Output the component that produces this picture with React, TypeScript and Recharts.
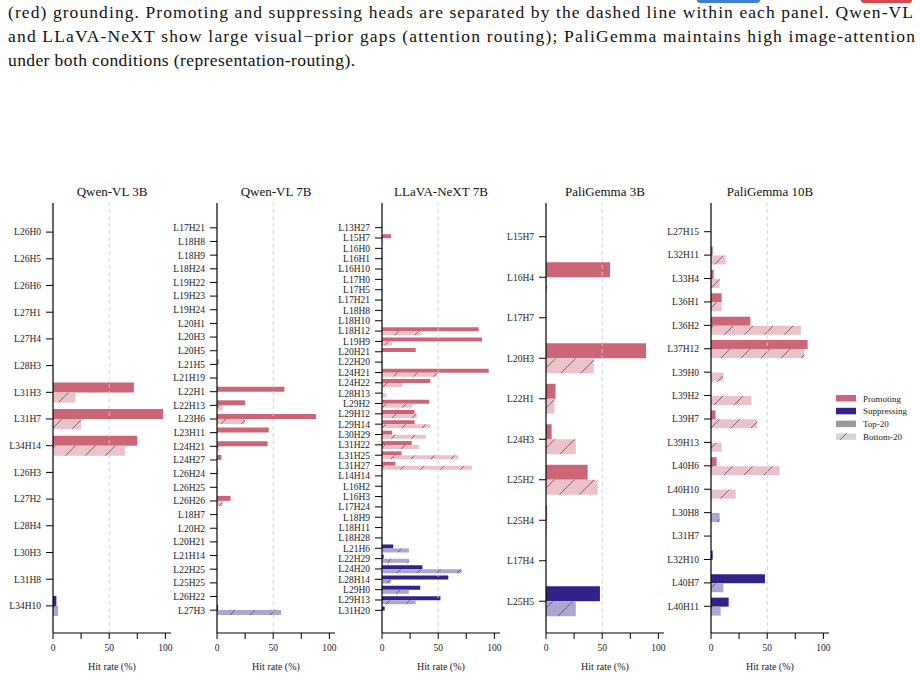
import React from "react";
import { BarChart, Bar, XAxis, YAxis, ReferenceLine, Cell } from "recharts";

const RED = "#cc6677";
const PURPLE = "#332288";
const RED_LIGHT = "#ebc2c9";
const PURPLE_LIGHT = "#ada7cf";
const SERIF = "'Liberation Serif', 'Times New Roman', serif";

// Qwen-VL 3B
const qwen3Heads = ["L26H0", "L26H5", "L26H6", "L27H1", "L27H4", "L28H3", "L31H3", "L31H7", "L34H14", "L26H3", "L27H2", "L28H4", "L30H3", "L31H8", "L34H10"];
const qwen3Top = [0, 0, 0, 0, 0, 0, 72, 98, 75, 0, 0, 0, 0, 0, 3];
const qwen3Bottom = [0, 0, 0, 0, 0, 0, 20, 25, 64, 0, 0, 0, 0, 0, 4.5];

// Qwen-VL 7B
const qwen7Heads = ["L17H21", "L18H8", "L18H9", "L18H24", "L19H22", "L19H23", "L19H24", "L20H1", "L20H3", "L20H5", "L21H5", "L21H19", "L22H1", "L22H13", "L23H6", "L23H11", "L24H21", "L24H27", "L26H24", "L26H25", "L26H26", "L18H7", "L20H2", "L20H21", "L21H14", "L22H25", "L25H25", "L26H22", "L27H3"];
const qwen7Top = [0, 0, 0, 0, 0, 0, 0, 0, 0, 0, 1.5, 0, 60, 25, 88, 46, 45, 4, 0.8, 0, 12, 0, 0, 0, 0, 0, 0, 0, 1];
const qwen7Bottom = [0, 0, 0, 0, 0, 0, 0, 0, 0, 0, 0, 0, 0, 5, 25, 0, 2, 0, 0, 0, 5, 0, 0, 0, 0, 0, 0, 0, 57];

// LLaVA-NeXT 7B
const llavaHeads = ["L13H27", "L15H7", "L16H0", "L16H1", "L16H10", "L17H0", "L17H5", "L17H21", "L18H8", "L18H10", "L18H12", "L19H9", "L20H21", "L22H20", "L24H21", "L24H22", "L28H13", "L29H2", "L29H12", "L29H14", "L30H29", "L31H22", "L31H25", "L31H27", "L14H14", "L16H2", "L16H3", "L17H24", "L18H9", "L18H11", "L18H28", "L21H6", "L22H29", "L24H20", "L28H14", "L29H0", "L29H13", "L31H20"];
const llavaTop = [0, 8, 0, 0, 0, 0, 0, 0, 0, 0, 86, 89, 30, 0, 95, 43, 0, 42, 29, 29, 9, 26.5, 17.5, 12, 0, 0, 0, 0, 0, 0, 0, 10, 1.5, 36, 59, 34, 52, 2.4];
const llavaBottom = [0, 1, 0, 0, 0, 0, 0, 0, 0, 0, 35, 9, 0, 0, 49, 18, 4, 27, 31, 43, 39, 33, 68, 80, 0, 0, 0, 0, 0, 0, 0, 24, 24, 71, 8, 24, 30, 0];

// PaliGemma 3B
const pali3Heads = ["L15H7", "L16H4", "L17H7", "L20H3", "L22H1", "L24H3", "L25H2", "L25H4", "L17H4", "L25H5"];
const pali3Top = [0, 57, 0, 89, 8.5, 5, 37, 1, 0, 48];
const pali3Bottom = [0, 1, 0, 42.5, 7.5, 26.5, 46, 0.7, 0, 26.5];

// PaliGemma 10B
const pali10Heads = ["L27H15", "L32H11", "L33H4", "L36H1", "L36H2", "L37H12", "L39H0", "L39H2", "L39H7", "L39H13", "L40H6", "L40H10", "L30H8", "L31H7", "L32H10", "L40H7", "L40H11"];
const pali10Top = [0, 1.5, 2.4, 9.5, 35, 86, 0, 0, 4, 0, 5, 0, 0, 0, 1.5, 48, 15.7];
const pali10Bottom = [0, 13, 7.7, 9.5, 80, 83, 11, 36, 41, 9.5, 61, 22, 7.7, 0, 0, 11, 8.6];

const xTicks = [0, 25, 50, 75, 100];

const captionLines = [
  "(red) grounding. Promoting and suppressing heads are separated by the dashed line within each panel. Qwen-VL",
  "and LLaVA-NeXT show large visual\u2212prior gaps (attention routing); PaliGemma maintains high image-attention",
  "under both conditions (representation-routing).",
];

const legendItems = ["Promoting", "Suppressing", "Top-20", "Bottom-20"];

const Hatch = ({ id, color }: any) => (
  <pattern id={id} patternUnits="userSpaceOnUse" width={20} height={20}>
    <rect width={20} height={20} fill={color} />
    <path d="M-5,5 L5,-5 M0,20 L20,0 M15,25 L25,15" stroke="#3a3a3a" strokeOpacity={0.65} strokeWidth={1} />
  </pattern>
);

const Panel = ({ id, x, heads, top, bottom, promoting, pad }: any) => {
  const data = heads.map((h: string, i: number) => ({ head: h, top: top[i], bottom: bottom[i] }));
  return (
    <div style={{ position: "absolute", left: x - 55, top: 203 }}>
      <BarChart
        width={175}
        height={460}
        data={data}
        layout="vertical"
        margin={{ top: 0, right: 2, bottom: 0, left: 0 }}
        barCategoryGap="13%"
        barGap={0}
      >
        <defs>
          <Hatch id={`${id}-hr`} color={RED_LIGHT} />
          <Hatch id={`${id}-hp`} color={PURPLE_LIGHT} />
        </defs>
        <XAxis
          type="number"
          domain={[0, 105]}
          ticks={xTicks}
          tickFormatter={(v: number) => (v % 50 === 0 ? String(v) : "")}
          height={30}
          axisLine={{ stroke: "#000", strokeWidth: 1.2 }}
          tickLine={{ stroke: "#000" }}
          tickSize={6}
          tickMargin={5}
          tick={{ fontSize: 9.5, fill: "#222", fontFamily: SERIF }}
        />
        <YAxis
          type="category"
          dataKey="head"
          width={55}
          interval={0}
          padding={{ top: pad + 1, bottom: pad - 1 }}
          axisLine={{ stroke: "#000", strokeWidth: 1.2 }}
          tickLine={{ stroke: "#000" }}
          tickSize={7}
          tickMargin={5}
          tick={{ fontSize: 9.5, fill: "#222", fontFamily: SERIF }}
        />
        <ReferenceLine x={50} stroke="#cfcfcf" strokeDasharray="4 3" strokeWidth={0.9} />
        <Bar dataKey="top" isAnimationActive={false}>
          {data.map((_: any, i: number) => (
            <Cell key={i} fill={i < promoting ? RED : PURPLE} />
          ))}
        </Bar>
        <Bar dataKey="bottom" isAnimationActive={false}>
          {data.map((_: any, i: number) => (
            <Cell key={i} fill={i < promoting ? `url(#${id}-hr)` : `url(#${id}-hp)`} />
          ))}
        </Bar>
      </BarChart>
    </div>
  );
};

const panels = [
  { id: "p1", title: "Qwen-VL 3B", x: 53, heads: qwen3Heads, top: qwen3Top, bottom: qwen3Bottom, promoting: 9, pad: 14.75 },
  { id: "p2", title: "Qwen-VL 7B", x: 217, heads: qwen7Heads, top: qwen7Top, bottom: qwen7Bottom, promoting: 21, pad: 17 },
  { id: "p3", title: "LLaVA-NeXT 7B", x: 382, heads: llavaHeads, top: llavaTop, bottom: llavaBottom, promoting: 24, pad: 18.5 },
  { id: "p4", title: "PaliGemma 3B", x: 546, heads: pali3Heads, top: pali3Top, bottom: pali3Bottom, promoting: 8, pad: 12.5 },
  { id: "p5", title: "PaliGemma 10B", x: 711, heads: pali10Heads, top: pali10Top, bottom: pali10Bottom, promoting: 12, pad: 16 },
];

export default function App() {
  const legendFills = [RED, PURPLE, "#999999", "url(#lg-hatch)"];
  return (
    <div style={{ position: "absolute", left: 0, top: 0, width: 921, height: 679, background: "#fff", overflow: "hidden" }}>
      <svg width={921} height={679} style={{ position: "absolute", left: 0, top: 0 }}>
        <defs>
          <Hatch id="lg-hatch" color="#d6d6d6" />
        </defs>
        <rect x={697} y={-6} width={63} height={9} rx={3} fill="#3f7fd0" />
        <rect x={861} y={-6} width={51} height={9} rx={3} fill="#d9474c" />
        {captionLines.map((t, i) => (
          <text
            key={i}
            x={8}
            y={18 + i * 24}
            fontFamily={SERIF}
            fontSize={17.5}
            fill="#111"
            textLength={i === 0 ? 905 : i === 1 ? 907 : 347}
            lengthAdjust="spacing"
          >
            {t}
          </text>
        ))}
        {panels.map((p) => (
          <g key={p.id}>
            <text x={p.x + 59} y={196} textAnchor="middle" fontFamily={SERIF} fontSize={13} fill="#111">
              {p.title}
            </text>
            <text x={p.x + 59} y={670} textAnchor="middle" fontFamily={SERIF} fontSize={10} fill="#222">
              Hit rate (%)
            </text>
          </g>
        ))}
        {legendItems.map((t, i) => (
          <g key={t}>
            <rect x={836} y={395 + i * 12.8} width={20} height={6.5} fill={legendFills[i]} />
            <text x={863} y={401.5 + i * 12.8} fontFamily={SERIF} fontSize={9} fill="#222">
              {t}
            </text>
          </g>
        ))}
      </svg>
      {panels.map((p) => (
        <Panel key={p.id} {...p} />
      ))}
    </div>
  );
}
